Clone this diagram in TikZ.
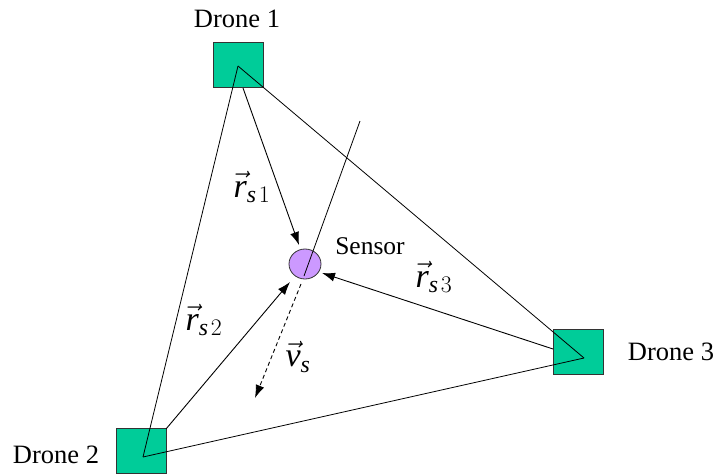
\RequirePackage{fix-cm}
\documentclass[tikz,border=0pt]{standalone}
\usepackage{fontspec}
\setmainfont{Liberation Serif}
\usetikzlibrary{arrows.meta,shapes.geometric}
\definecolor{dronegreen}{RGB}{0,204,153}
\definecolor{sensorpurple}{RGB}{204,153,255}
\begin{document}
\begin{tikzpicture}[x=1pt,y=-1pt,
  dronebox/.style={draw=black!80, line width=0.8pt, fill=dronegreen, minimum width=50pt, minimum height=45pt, inner sep=0pt},
  sensornode/.style={ellipse, draw=black!80, line width=0.8pt, fill=sensorpurple, minimum width=32pt, minimum height=30pt, inner sep=0pt},
  lbl/.style={font=\rmfamily\fontsize{26.5}{30}\selectfont, inner sep=0pt, anchor=base},
  veclbl/.style={font=\rmfamily\fontsize{34}{38}\selectfont, inner sep=0pt},
  edge/.style={line width=0.8pt},
  arr/.style={line width=0.9pt, -{Latex[length=13pt,width=9pt]}}
]
\useasboundingbox (0,0) rectangle (717,474);
% drone boxes
\node[dronebox] (d1) at (238,65) {};
\node[dronebox] (d2) at (141.5,451) {};
\node[dronebox] (d3) at (578.5,351.5) {};
\coordinate (c1) at (238,66);
\coordinate (c2) at (143,457);
\coordinate (c3) at (584,358);
% sensor
\node[sensornode] (s) at (305,264) {};
% triangle edges
\draw[edge] (c1) -- (c2);
\draw[edge] (c1) -- (c3);
\draw[edge] (c2) -- (c3);
% sensor heading line
\coordinate (top) at (360,121);
\coordinate (sin) at (304,276);
\coordinate (sout) at (301,284);
\coordinate (vtip) at (255,398);
\draw[edge] (top) -- (sin);
\draw[line width=0.9pt, dashed, dash pattern=on 4pt off 3pt, -{Latex[length=13pt,width=9pt]}] (sout) -- (vtip);
% range vectors
\coordinate (r1s) at (243,88);
\coordinate (r1e) at (299,245);
\coordinate (r2s) at (166,429);
\coordinate (r2e) at (290,282);
\coordinate (r3s) at (553,349);
\coordinate (r3e) at (322,273);
\draw[arr] (r1s) -- (r1e);
\draw[arr] (r2s) -- (r2e);
\draw[arr] (r3s) -- (r3e);
% labels
\node[lbl] (l1) at (237,27) {Drone 1};
\node[lbl] (l2) at (56,463) {Drone 2};
\node[lbl] (l3) at (671,360) {Drone 3};
\node[lbl, font=\rmfamily\fontsize{25.5}{30}\selectfont] (ls) at (370,254) {Sensor};
\node[veclbl] (v1) at (252,187) {$\vec{\mathit{r}}_{\mathit{s}\mkern2mu1}$};
\node[veclbl] (v2) at (204,320) {$\vec{\mathit{r}}_{\mathit{s}\mkern2mu2}$};
\node[veclbl] (v3) at (434,277) {$\vec{\mathit{r}}_{\mathit{s}\mkern2mu3}$};
\node[veclbl] (vv) at (298,357) {$\vec{\mathit{v}}_{\mathit{s}}$};
\end{tikzpicture}
\end{document}
